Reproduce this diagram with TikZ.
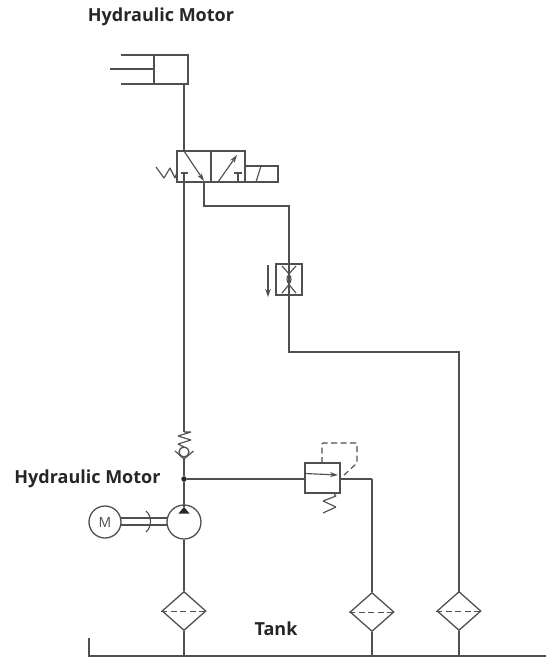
\documentclass[tikz,border=0pt]{standalone}
\usepackage{fontspec}
\setmainfont{Open Sans}
\usetikzlibrary{arrows.meta,shapes.geometric}
\definecolor{ln}{HTML}{505050}
\tikzset{
  x=1pt,y=-1pt,
  pipe/.style={draw=ln,line width=1.15pt},
  thinsym/.style={draw=ln,line width=1.15pt},
  filterbox/.style={diamond,draw=ln,line width=1.3pt,minimum width=44pt,minimum height=39pt,inner sep=0pt,aspect=1.13,fill=white},
  lbl/.style={draw=none,font=\bfseries\fontsize{18}{20}\selectfont,text=black!85,inner sep=0pt},
  arrowhead/.style={-{Stealth[length=8pt,width=5pt]}},
  circ/.style={circle,draw=ln,line width=1.3pt,inner sep=0pt,fill=white},
  junction/.style={circle,fill=black!85,draw=none,minimum size=5.5pt,inner sep=0pt},
}
\begin{document}
\begin{tikzpicture}
\path[draw=none,use as bounding box] (0,0) rectangle (546,657);

% labels
\node[lbl] (topl) at (161,17) {Hydraulic Motor};
\node[lbl] (midl) at (87.5,478.5) {Hydraulic Motor};
\node[lbl] (tankl) at (276,629) {Tank};

% cylinder
\coordinate (cylout) at (184,84);
\draw[pipe] (154,55) rectangle (188,84);
\draw[pipe] (121,55) -- (154,55);
\draw[pipe] (121,84) -- (154,84);
\draw[pipe] (110,69) -- (154,69);

% valve
\coordinate (vtop) at (184,151);
\coordinate (vpa) at (204,182);
\coordinate (vpt) at (184,182);
\draw[pipe] (177,151) rectangle (211,182);
\draw[pipe] (211,151) rectangle (245,182);
\draw[pipe] (245,166) rectangle (278,182);
\draw[thinsym] (256,182) -- (261,166);
\draw[thinsym,line join=bevel] (156,167) -- (164,178) -- (170,168) -- (175,178) -- (177,172);
\draw[thinsym,arrowhead] (vtop) -- (204,181);
\draw[thinsym,arrowhead] (218,182) -- (237,155);
\draw[thinsym] (180.5,173) -- (188,173);
\draw[thinsym] (vpt) -- (184,173);
\draw[thinsym] (234,173) -- (242,173);
\draw[thinsym] (238,173) -- (238,182);
\draw[pipe] (cylout) -- (vtop);

% throttle
\coordinate (thtop) at (289,264);
\coordinate (thbot) at (289,295);
\draw[pipe] (276,264) rectangle (302,295);
\draw[thinsym] (282,266) .. controls (294,279) .. (282,293);
\draw[thinsym] (296,266) .. controls (284,279) .. (296,293);
\draw[thinsym,-{Stealth[length=8pt,width=5.5pt]}] (268,265) -- (268,297);

% upper return line
\coordinate (c1) at (204,206);
\coordinate (c2) at (289,206);
\coordinate (c3) at (289,352);
\coordinate (c4) at (459,352);
\coordinate (c5) at (459,592);
\draw[pipe] (vpa) -- (c1) -- (c2) -- (thtop);
\draw[pipe] (thtop) -- (thbot);
\draw[pipe] (thbot) -- (c3) -- (c4) -- (c5);

% check valve
\coordinate (sp0) at (184,432);
\coordinate (chkb) at (184,459);
\node[circ,minimum size=10pt] (chk) at (184,452) {};
\draw[pipe] (vpt) -- (sp0);
\draw[thinsym,line join=bevel] (sp0) -- (191,432) -- (178,436) -- (191,440) -- (178,444) -- (184,447);
\draw[thinsym] (175,451) -- (chkb) -- (193.5,451);

% junction and pump
\node[junction] (jn) at (184,479) {};
\node[circ,minimum size=34pt] (pump) at (184,522) {};
\draw[pipe] (chkb) -- (jn);
\draw[pipe] (jn) -- (184,507);
\fill[black!85,draw=none] (184,507) -- (178.5,513.5) -- (189.5,513.5) -- cycle;

% motor
\node[circ,minimum size=32pt,font=\fontsize{14}{16}\selectfont,text=ln] (motor) at (105,522) {M};
\draw[thinsym] (121,518) -- (167,518);
\draw[thinsym] (121,525) -- (167,525);
\draw[thinsym] (146,511) .. controls (152,516) and (152,527) .. (146,532);

% relief valve
\coordinate (rl) at (305,479);
\coordinate (rr) at (340,479);
\coordinate (r1) at (372,479);
\draw[pipe] (305,463) rectangle (340,493);
\draw[thinsym,-{Stealth[length=8pt,width=5pt]}] (305,473.5) -- (338,475);
\draw[pipe] (jn) -- (rl);
\draw[pipe] (rr) -- (r1);
\draw[thinsym,dash pattern=on 6pt off 3.5pt,rounded corners=1pt] (322,463) -- (322,443) -- (357,443) -- (357,463) -- (342,477);
\draw[thinsym,line join=bevel] (334,494) -- (336,496) -- (323,501) -- (336,507) -- (323,513);

% filters
\node[filterbox] (f1) at (184,611) {};
\node[filterbox] (f2) at (372,612) {};
\node[filterbox] (f3) at (459,611) {};
\foreach \f in {f1,f2,f3}{
  \draw[draw=ln,line width=0.9pt,dash pattern=on 6pt off 3.5pt] (\f.west) -- (\f.east);
}
\draw[pipe] (pump.south) -- (f1.north);
\draw[pipe] (r1) -- (f2.north);
\draw[pipe] (c5) -- (f3.north);

% tank
\coordinate (tkl) at (89,638);
\coordinate (tk0) at (89,656);
\coordinate (tkr) at (546,656);
\draw[pipe] (tkl) -- (tk0) -- (tkr);
\draw[pipe] (f1.south) -- (f1.south |- tk0);
\draw[pipe] (f2.south) -- (f2.south |- tk0);
\draw[pipe] (f3.south) -- (f3.south |- tk0);
\end{tikzpicture}
\end{document}
